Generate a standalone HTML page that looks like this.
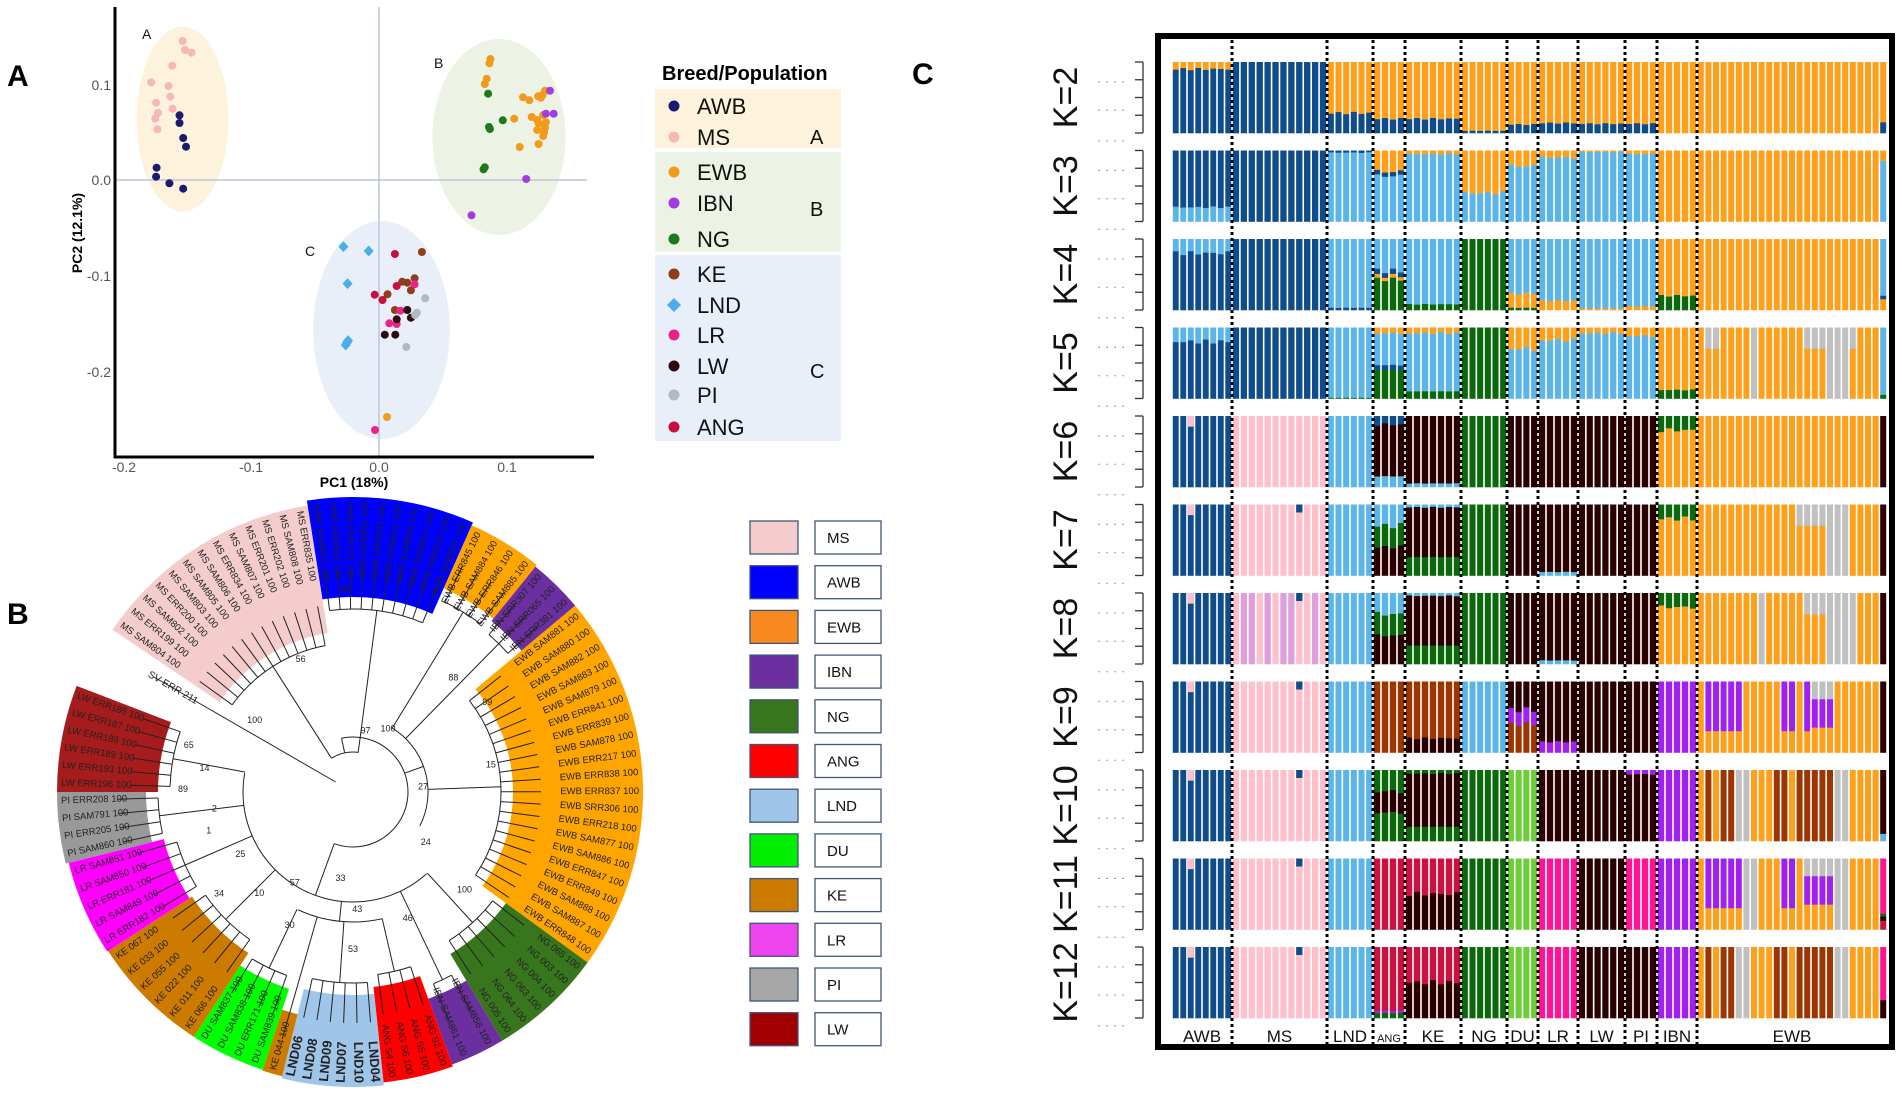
<!DOCTYPE html>
<html><head><meta charset="utf-8"><style>
html,body{margin:0;padding:0;background:#fff;}
svg{display:block;font-family:"Liberation Sans",sans-serif;}
</style></head><body>
<svg id="s" width="1902" height="1093" viewBox="0 0 1902 1093" xmlns="http://www.w3.org/2000/svg">
<rect width="1902" height="1093" fill="#fff"/>
<text x="7" y="86" font-size="30" font-weight="bold">A</text>
<text x="7" y="624" font-size="30" font-weight="bold">B</text>
<text x="912" y="84" font-size="30" font-weight="bold">C</text>

<ellipse cx="182.5" cy="119" rx="46" ry="92.5" fill="#fdf3dc"/>
<ellipse cx="499" cy="137" rx="66.6" ry="98" fill="#ecf3e4"/>
<ellipse cx="381.5" cy="330" rx="68.4" ry="109" fill="#e8eff8"/>
<line x1="379" y1="7" x2="379" y2="457" stroke="#b8c6dc" stroke-width="1.5"/>
<line x1="115" y1="180" x2="587" y2="180" stroke="#b8c6dc" stroke-width="1.5"/>
<line x1="115" y1="7" x2="115" y2="458" stroke="#000" stroke-width="3"/>
<line x1="114" y1="457" x2="594" y2="457" stroke="#000" stroke-width="3"/>
<g font-size="14" fill="#555" text-anchor="end">
<text x="111" y="90">0.1</text><text x="111" y="185">0.0</text><text x="111" y="281">-0.1</text><text x="111" y="377">-0.2</text>
</g>
<g font-size="14" fill="#555" text-anchor="middle">
<text x="124" y="472">-0.2</text><text x="251" y="472">-0.1</text><text x="379" y="472">0.0</text><text x="507" y="472">0.1</text>
</g>
<text x="354" y="487" font-size="14" font-weight="bold" text-anchor="middle">PC1 (18%)</text>
<text transform="translate(82,233) rotate(-90)" font-size="14" font-weight="bold" text-anchor="middle">PC2 (12.1%)</text>
<g font-size="14" fill="#111"><text x="142" y="39">A</text><text x="434" y="68">B</text><text x="305" y="256">C</text></g>
<g id="pts"></g>

<text x="662" y="80" font-size="20" font-weight="bold">Breed/Population</text>
<rect x="655" y="89" width="186" height="59" fill="#fdf3dc"/>
<rect x="655" y="152" width="186" height="100" fill="#ecf3e4"/>
<rect x="655" y="255" width="186" height="186" fill="#e8eff8"/>
<g id="legA" font-size="22" fill="#111"></g>
<g font-size="20" fill="#111"><text x="810" y="144">A</text><text x="810" y="216">B</text><text x="810" y="378">C</text></g>

<g id="tree"></g>
<g id="legB" font-size="15" fill="#111"></g>
<g id="pc"></g>
</svg>
<script>
(function(){
var NS="http://www.w3.org/2000/svg";
function el(p,tag,attrs,txt){var e=document.createElementNS(NS,tag);for(var k in attrs)e.setAttribute(k,attrs[k]);if(txt!==undefined)e.textContent=txt;p.appendChild(e);return e;}

var pts=document.getElementById('pts');
var sx=2.178, sy=3;
var data={
'#f7b6b8':[[398,123],[403,150],[417,158],[375,197],[329,247],[367,258],[371,290],[340,308],[344,339],[376,326],[338,356],[343,388]],
'#1b1b6e':[[391,346],[391,369],[399,414],[405,440],[341,503],[340,530],[369,550],[399,566]],
'#f29a1c':[[1068,177],[1066,190],[1060,236],[1056,252],[1139,292],[1153,301],[1172,289],[1178,293],[1182,285],[1187,272],[1120,356],[1158,351],[1170,360],[1183,345],[1189,367],[1173,370],[1187,383],[1170,390],[1185,395],[1183,408],[1132,441],[1173,432]],
'#a23be0':[[1198,272],[1189,341],[1206,341],[1146,537],[1027,646]],
'#1c7a1c':[[1063,281],[1095,361],[1065,381],[1067,387],[1053,508],[1056,502]],
'#8f3d1d':[[919,756],[876,845],[887,848],[903,835],[844,883],[895,871],[860,930]],
'#c8103c':[[860,762],[816,884],[833,900],[864,858]],
'#e8238a':[[903,853],[872,932],[848,970],[864,972]],
'#2d0a10':[[887,930],[864,958],[895,953],[838,1004],[861,1004]],
'#b5b8bd':[[926,895],[908,938],[904,945],[885,1041]]
};
for(var c in data){data[c].forEach(function(p){el(pts,'circle',{cx:(p[0]/sx).toFixed(1),cy:(p[1]/sy).toFixed(1),r:4,fill:c});});}
[[748,740],[803,753],[757,851],[756,1027],[758,1022],[753,1035]].forEach(function(p){var x=p[0]/sx,y=p[1]/sy;el(pts,'polygon',{points:(x)+','+(y-5.5)+' '+(x+5)+','+y+' '+x+','+(y+5.5)+' '+(x-5)+','+y,fill:'#4aaee8'});});
el(pts,'circle',{cx:387,cy:417,r:4,fill:'#f29a1c'});
el(pts,'circle',{cx:375,cy:430,r:4,fill:'#e8238a'});

var legA=document.getElementById('legA');
var LA=[['AWB','#1b1b6e',106],['MS','#f7b6b8',137],['EWB','#f29a1c',172],['IBN','#a23be0',203],['NG','#1c7a1c',239],['KE','#8f3d1d',274],['LND','#4aaee8',305],['LR','#e8238a',335],['LW','#2d0a10',366],['PI','#b5b8bd',395],['ANG','#c8103c',427]];
LA.forEach(function(r){
 if(r[0]=='LND'){el(legA,'polygon',{points:'674,'+(r[2]-7)+' 681,'+r[2]+' 674,'+(r[2]+7)+' 667,'+r[2],fill:r[1]});}
 else el(legA,'circle',{cx:674,cy:r[2],r:5.5,fill:r[1]});
 el(legA,'text',{x:697,y:r[2]+8},r[0]);
});

var tree=document.getElementById('tree');
var cx=353,cy=792;
function P(r,a){var t=a*Math.PI/180;return [cx+r*Math.sin(t),cy-r*Math.cos(t)];}
function sector(a0,a1,ri,ro){var p1=P(ro,a0),p2=P(ro,a1),p3=P(ri,a1),p4=P(ri,a0);var lg=(a1-a0)>180?1:0;
 return 'M'+p1+' A'+ro+','+ro+' 0 '+lg+' 1 '+p2+' L'+p3+' A'+ri+','+ri+' 0 '+lg+' 0 '+p4+' Z';}
function arc(r,a0,a1){var p1=P(r,a0),p2=P(r,a1);return 'M'+p1+' A'+r+','+r+' 0 '+((a1-a0)>180?1:0)+' 1 '+p2;}
var secs=[
 {a0:-56,a1:-9,ri:161,ro:290,col:'#f4cccc',pre:'MS',ids:['SAM804','ERR199','SAM802','ERR200','SAM803','SAM805','SAM806','ERR834','SAM807','ERR201','ERR202','SAM808','ERR835'],st:40},
 {a0:-9,a1:24,ri:195,ro:295,col:'#0000ff',pre:'AWB',ids:['SAM815','ERR843','ERR222','SAM811','ERR844','SAM812','SAM809','SAM813','ERR223','SAM814'],st:40},
 {a0:24,a1:39,ri:223,ro:292,col:'#ffa500',pre:'EWB',ids:['ERR845','SAM884','ERR846','SAM885'],st:75},
 {a0:39,a1:50,ri:220,ro:290,col:'#6b2fa0',pre:'IBN',ids:['SRR307','SRR065','SRR381'],st:75},
 {a0:50,a1:126,ri:160,ro:290,col:'#ffa500',pre:'EWB',ids:['SAM881','SAM880','SAM882','SAM883','SAM879','ERR841','ERR839','SAM878','ERR217','ERR838','ERR837','SRR306','ERR218','SAM877','SAM886','ERR847','ERR849','SAM888','SAM887','ERR848'],st:75},
 {a0:126,a1:149,ri:189,ro:290,col:'#38761d',pre:'NG',ids:['065','003','004','063','064','005'],st:110},
 {a0:149,a1:160,ri:220,ro:290,col:'#6b2fa0',pre:'IBN',ids:['SAM856','SAM861'],st:110},
 {a0:160,a1:174,ri:196,ro:292,col:'#ff0000',pre:'ANG',ids:['S2','S5','S6','S4'],st:130},
 {a0:174,a1:194,ri:203,ro:295,col:'#9fc5e8',pre:'LND',ids:['04','10','07','09','08','06'],st:130,bold:1},
 {a0:194,a1:198,ri:229,ro:293,col:'#cc7a00',pre:'KE',ids:['044'],st:130},
 {a0:198,a1:213,ri:207,ro:292,col:'#00ff00',pre:'DU',ids:['SAM839','ERR171','SAM838','SAM837'],st:130},
 {a0:213,a1:237,ri:192,ro:292,col:'#cc7a00',pre:'KE',ids:['066','011','022','055','033','067'],st:110},
 {a0:237,a1:256,ri:195,ro:293,col:'#ff00ff',pre:'LR',ids:['ERR182','SAM849','ERR181','SAM850','SAM851'],st:110},
 {a0:256,a1:270,ri:207,ro:296,col:'#999999',pre:'PI',ids:['SAM860','ERR205','SAM791','ERR208'],st:110},
 {a0:270,a1:291,ri:195,ro:296,col:'#a61c1c',pre:'LW',ids:['ERR196','ERR193','ERR189','ERR188','ERR187','ERR186'],st:110}
];
secs.forEach(function(s){el(tree,'path',{d:sector(s.a0,s.a1,s.ri,s.ro),fill:s.col});});
var lines=el(tree,'g',{stroke:'#222','stroke-width':1,fill:'none'});
var labs=el(tree,'g',{fill:'#222'});
secs.forEach(function(s){
 var n=s.ids.length,span=s.a1-s.a0,step=span/n;
 var rb=s.ri-12;
 var a0=s.a0+step/2,a1=s.a1-step/2;
 s.ids.forEach(function(id,i){
  var a=s.a0+step*(i+0.5);
  var fs=s.bold?13:Math.min(9.5,step*4.3);
  var tr=s.ro-4;
  var p=P(tr,a), q=P(s.ri+28,a), b=P(rb,a);
  el(lines,'line',{x1:q[0].toFixed(1),y1:q[1].toFixed(1),x2:b[0].toFixed(1),y2:b[1].toFixed(1)});
  var rot, anc;
  if(a>=0 && a<=180){rot=a-90;anc='end';} else {rot=a+90;anc='start';}
  var name=s.bold?(s.pre+id):(s.pre+' '+id);
  el(labs,'text',{transform:'translate('+p[0].toFixed(1)+','+p[1].toFixed(1)+') rotate('+rot.toFixed(1)+')','text-anchor':anc,'font-size':fs,'font-weight':s.bold?'bold':'normal','dominant-baseline':'middle'},name+(s.bold?'':' 100'));
 });
 if(n>1) el(lines,'path',{d:arc(rb,a0,a1)});
 var am=(s.a0+s.a1)/2, m1=P(rb,am), m2=P(s.st,am);
 el(lines,'line',{x1:m1[0].toFixed(1),y1:m1[1].toFixed(1),x2:m2[0].toFixed(1),y2:m2[1].toFixed(1)});
});
el(lines,'path',{d:arc(40,-32,8)});
el(lines,'path',{d:arc(75,31,117)});
el(lines,'path',{d:arc(110,138,280)});
el(lines,'path',{d:arc(130,167,205)});
el(lines,'path',{d:arc(55,-12,200)});
(function(){var a=P(130,186),b=P(110,186);el(lines,'line',{x1:a[0],y1:a[1],x2:b[0],y2:b[1]});
 var c=P(110,200),d=P(55,200);el(lines,'line',{x1:c[0],y1:c[1],x2:d[0],y2:d[1]});
 var e=P(75,70),f=P(55,70);el(lines,'line',{x1:e[0],y1:e[1],x2:f[0],y2:f[1]});
 var g=P(40,-12),h=P(55,-12);el(lines,'line',{x1:g[0],y1:g[1],x2:h[0],y2:h[1]});
 var sv1=P(20,-60),sv2=P(230,-60);el(lines,'line',{x1:sv1[0],y1:sv1[1],x2:sv2[0],y2:sv2[1]});
 var t=P(236,-60);el(labs,'text',{transform:'translate('+t[0]+','+t[1]+') rotate(30)','text-anchor':'start','font-size':10,'dominant-baseline':'middle'},'SV ERR 211');
})();
var bl=[['86',200,-2],['56',140,-22],['100',120,-55],['97',60,12],['100',70,30],['88',150,42],['99',160,57],['27',70,88],['15',140,80],['24',90,126],['100',150,132],['46',140,157],['43',120,178],['53',160,180],['33',90,188],['57',110,212],['30',150,205],['10',140,222],['34',170,232],['25',130,240],['1',150,254],['2',140,262],['89',170,270],['14',150,278],['65',170,285]];
bl.forEach(function(b){var p=P(b[1],b[2]);el(labs,'text',{x:p[0].toFixed(1),y:p[1].toFixed(1),'font-size':9,'text-anchor':'middle'},b[0]);});

var legB=document.getElementById('legB');
var LB=[['MS','#f4cccc'],['AWB','#0000ff'],['EWB','#f7891f'],['IBN','#6b2fa0'],['NG','#38761d'],['ANG','#ff0000'],['LND','#9fc5e8'],['DU','#00ee00'],['KE','#cc7a00'],['LR','#ee44ee'],['PI','#a6a6a6'],['LW','#a00000']];
LB.forEach(function(r,i){var y=521+i*44.7;
 el(legB,'rect',{x:750,y:y.toFixed(1),width:48,height:33,fill:r[1],stroke:'#41557a','stroke-width':1.3});
 el(legB,'rect',{x:815,y:y.toFixed(1),width:66,height:33,fill:'#fff',stroke:'#41557a','stroke-width':1.3});
 el(legB,'text',{x:827,y:(y+22).toFixed(1)},r[0]);
});

/* Panel C */
var pc=document.getElementById('pc');
var DB='#0f4c8a',LBc='#5bb5e8',OR='#ff9f1a',DG='#0b680b',B0='#2b0000',PK='#ffc0cb',BRN='#9c3500',PU='#a020f0',GR='#c0c0c0',HP='#ff1493',LG='#6ccf3a',CR='#cc1040',PKL='#dda0dd';
var bnd=[1172,1232,1327,1373,1405,1461,1507,1538,1578,1625,1657,1697,1887];
var names=['AWB','MS','LND','ANG','KE','NG','DU','LR','LW','PI','IBN','EWB'];
var cnt=[8,12,6,4,7,6,4,5,6,4,5,25];
var C={
2:[[[OR,.1],[DB,.9]],[[DB,1]],[[OR,.72],[DB,.28]],[[OR,.8],[DB,.2]],[[OR,.8],[DB,.2]],[[OR,.97],[DB,.03]],[[OR,.88],[DB,.12]],[[OR,.86],[DB,.14]],[[OR,.87],[DB,.13]],[[OR,.87],[DB,.13]],[[OR,1]],null],
3:[[[DB,.8],[LBc,.2]],[[DB,1]],[[DB,.03],[LBc,.97]],[[OR,.3],[DB,.06],[LBc,.64]],[[OR,.05],[LBc,.95]],[[OR,.6],[LBc,.4]],[[OR,.22],[LBc,.78]],[[OR,.1],[LBc,.9]],[[OR,.02],[LBc,.98]],[[OR,.05],[LBc,.95]],[[OR,1]],null],
4:[[[LBc,.2],[DB,.8]],[[DB,1]],[[LBc,.97],[DB,.03]],[[LBc,.45],[DB,.07],[OR,.05],[DG,.43]],[[LBc,.92],[DG,.08]],[[DG,1]],[[LBc,.77],[OR,.2],[DG,.03]],[[LBc,.87],[OR,.13]],[[LBc,.98],[OR,.02]],[[LBc,.95],[OR,.05]],[[OR,.8],[DG,.2]],null],
5:[[[LBc,.2],[DB,.8]],[[DB,1]],[[LBc,.99],[DG,.01]],[[OR,.08],[LBc,.45],[DB,.07],[DG,.4]],[[OR,.08],[LBc,.82],[DG,.1]],[[DG,1]],[[OR,.3],[LBc,.7]],[[OR,.18],[LBc,.82]],[[OR,.08],[LBc,.92]],[[OR,.12],[LBc,.88]],[[OR,.88],[DG,.12]],null],
6:[[[DB,1]],[[PK,1]],[[LBc,1]],[[DB,.12],[B0,.73],[LBc,.15]],[[B0,.95],[LBc,.05]],[[DG,1]],[[B0,1]],[[B0,1]],[[B0,1]],[[B0,1]],[[DG,.2],[OR,.8]],null],
7:[[[DB,1]],[[PK,1]],[[LBc,1]],[[LBc,.3],[DG,.3],[B0,.4]],[[LBc,.04],[B0,.7],[DG,.26]],[[DG,1]],[[B0,1]],[[B0,.95],[LBc,.05]],[[B0,1]],[[B0,1]],[[DG,.2],[OR,.8]],null],
8:[[[DB,1]],[[PK,1]],[[LBc,1]],[[LBc,.3],[DG,.3],[B0,.4]],[[LBc,.04],[B0,.7],[DG,.26]],[[DG,1]],[[B0,1]],[[B0,.95],[LBc,.05]],[[B0,1]],[[B0,1]],[[DG,.2],[OR,.8]],null],
9:[[[DB,1]],[[PK,1]],[[LBc,1]],[[BRN,1]],[[BRN,.8],[B0,.2]],[[LBc,1]],[[B0,.4],[PU,.2],[BRN,.4]],[[B0,.85],[PU,.15]],[[B0,1]],[[B0,1]],[[PU,1]],null],
10:[[[DB,1]],[[PK,1]],[[LBc,1]],[[DG,.3],[B0,.3],[DG,.4]],[[DG,.05],[B0,.75],[DG,.2]],[[DG,1]],[[LG,1]],[[B0,1]],[[B0,1]],[[PU,.06],[B0,.94]],[[PU,1]],null],
11:[[[DB,1]],[[PK,1]],[[LBc,1]],[[CR,1]],[[CR,.5],[B0,.5]],[[DG,1]],[[LG,1]],[[HP,1]],[[B0,1]],[[HP,1]],[[PU,1]],null],
12:[[[DB,1]],[[PK,1]],[[LBc,1]],[[CR,.9],[PU,.03],[DG,.07]],[[CR,.5],[B0,.5]],[[DG,1]],[[LG,1]],[[HP,1]],[[B0,1]],[[B0,1]],[[PU,1]],null]
};
var EW={2:'ooooooooooooooooooooooooo',3:'ooooooooooooooooooooooooo',4:'ooooooooooooooooooooooooo',5:'oxxoooogooooooxxxgggxoooo',6:'ooooooooooooooooooooooooo',7:'oooooooooooooxxxxgggooooo',8:'oooooooogoooooxxxggggoooo',9:'opppppoooooppopqqqooooooo',10:'obobbggooobbobbbbbggoooob',11:'opppppggoooppoqqqqggooooo',12:'obobbggooobbobbbbbggooooo'};
var EC={o:[[OR,1]],g:[[GR,1]],b:[[BRN,1]],p:[[PU,.7],[OR,.3]],q:[[GR,.25],[PU,.4],[OR,.35]],x:[[GR,.3],[OR,.7]]};
var LAST={2:[[OR,.85],[DB,.15]],3:[[OR,.15],[LBc,.85]],4:[[LBc,.8],[DB,.05],[OR,.15]],5:[[LBc,.95],[DG,.05]],6:[[B0,1]],7:[[B0,1]],8:[[B0,1]],9:[[B0,1]],10:[[B0,.9],[LBc,.1]],11:[[HP,.78],[DG,.04],[B0,.06],[CR,.12]],12:[[HP,.75],[B0,.25]]};
var bars=el(pc,'g',{});
for(var k=2;k<=12;k++){
 var rowTop=62+(k-2)*88.5,h=71;
 for(var g=0;g<12;g++){
  var x0=bnd[g],x1=bnd[g+1],n=cnt[g],w=(x1-x0)/n;
  for(var j=0;j<n;j++){
   var comp;
   if(g==11){comp=(j==n-1)?LAST[k]:EC[EW[k].charAt(j)];}
   else comp=C[k][g];
   if(!comp) comp=[[OR,1]];
   if(k==8&&g==1) comp=(j%3==1||j%4==2)?[[PKL,1]]:[[PK,1]];
   comp=comp.map(function(s){return [s[0],s[1]];});
   if(comp.length>1 && g!=11){var jit=0.06*Math.sin(j*2.7+k*1.3);comp[0][1]=Math.max(0.005,comp[0][1]+jit*Math.min(1,comp[0][1]*3));var tot=comp.reduce(function(a,s){return a+s[1];},0);comp.forEach(function(s){s[1]/=tot;});}
   var yy=rowTop;
   for(var q=0;q<comp.length;q++){var s=comp[q];var hh=s[1]*h;el(bars,'rect',{x:(x0+j*w+0.8).toFixed(2),y:yy.toFixed(2),width:(w-1.6).toFixed(2),height:(hh+0.3).toFixed(2),fill:s[0]});yy+=hh;}
  }
 }
 if(k>=6){el(bars,'rect',{x:(1172+7.5*2+0.8),y:rowTop,width:5.9,height:h*0.15,fill:PK});}
 if(k>=7){el(bars,'rect',{x:(1232+7.92*8+0.8),y:rowTop,width:6.3,height:8,fill:DB});}
 var ax=el(pc,'g',{stroke:'#333','stroke-width':1.3});
 el(ax,'line',{x1:1143,y1:rowTop,x2:1143,y2:rowTop+h});
 for(var t=0;t<=4;t++){var ty=rowTop+t*h/4;el(ax,'line',{x1:1135,y1:ty,x2:1143,y2:ty});}
 var dg=el(pc,'g',{stroke:'#999','stroke-width':1,'stroke-dasharray':'2,6'});
 el(dg,'line',{x1:1098,y1:rowTop+h*0.28,x2:1124,y2:rowTop+h*0.28});
 el(dg,'line',{x1:1098,y1:rowTop+h*0.68,x2:1124,y2:rowTop+h*0.68});
 el(dg,'line',{x1:1098,y1:rowTop+h*1.11,x2:1124,y2:rowTop+h*1.11});
 el(pc,'text',{transform:'translate(1077,'+(rowTop+h/2)+') rotate(-90)','font-size':34,'text-anchor':'middle',fill:'#111'},'K='+k);
}
var dl=el(pc,'g',{stroke:'#000','stroke-width':3,'stroke-dasharray':'3,3'});
for(var i=1;i<12;i++){el(dl,'line',{x1:bnd[i],y1:40,x2:bnd[i],y2:1044});}
var lg=el(pc,'g',{'text-anchor':'middle',fill:'#111'});
for(var g2=0;g2<12;g2++){var xm=(bnd[g2]+bnd[g2+1])/2;el(lg,'text',{x:xm,y:1042,'font-size':names[g2]=='ANG'?11:17},names[g2]);}
el(pc,'rect',{x:1158,y:36,width:734,height:1011,fill:'none',stroke:'#000','stroke-width':6});
})();
</script>
</body></html>
